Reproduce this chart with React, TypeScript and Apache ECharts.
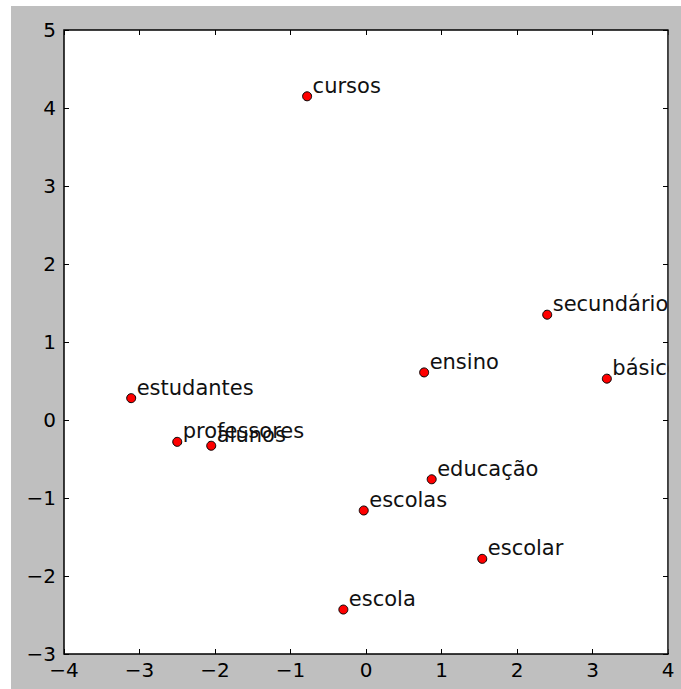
import React, { useEffect, useRef } from "react";
import * as echarts from "echarts";

const words = ["cursos", "secundário", "básico", "ensino", "estudantes", "professores", "alunos", "educação", "escolas", "escolar", "escola"];
const xValues = [-0.78, 2.4, 3.19, 0.77, -3.11, -2.5, -2.05, 0.87, -0.03, 1.54, -0.3];
const yValues = [4.15, 1.35, 0.53, 0.61, 0.28, -0.28, -0.33, -0.76, -1.16, -1.78, -2.43];

const FONT = "DejaVu Sans";
const fmt = (v: number) => String(v).replace("-", "\u2212");

export default function App() {
  const ref = useRef<HTMLDivElement>(null);
  useEffect(() => {
    if (!ref.current) return;
    const chart = echarts.init(ref.current, undefined, { renderer: "svg" });
    const data = words.map((w, i) => ({ name: w, value: [xValues[i], yValues[i]] }));
    const axisCommon = {
      type: "value" as const,
      min: -4,
      max: 4,
      interval: 1,
      splitLine: { show: false },
      axisLine: { show: false, onZero: false },
      axisTick: { show: true, inside: true, length: 5, lineStyle: { color: "#000", width: 1 } },
    };
    chart.setOption({
      animation: false,
      backgroundColor: "#bfbfbf",
      grid: { left: 53, top: 24, right: 13, bottom: 35, show: true, backgroundColor: "#ffffff", borderColor: "#000", borderWidth: 1.5 },
      graphic: [
        { type: "rect", right: 0, top: 0, z: 100, shape: { width: 12.2, height: 647 }, style: { fill: "#bfbfbf" } },
      ],
      xAxis: [
        { ...axisCommon, position: "bottom", axisLabel: { fontFamily: FONT, fontSize: 20, color: "#000", margin: 6, formatter: fmt } },
        { ...axisCommon, position: "top", axisLabel: { show: false } },
      ],
      yAxis: [
        { ...axisCommon, min: -3, max: 5, position: "left", axisLabel: { fontFamily: FONT, fontSize: 20, color: "#000", margin: 8, formatter: fmt } },
        { ...axisCommon, min: -3, max: 5, position: "right", axisLabel: { show: false } },
      ],
      series: [
        {
          type: "scatter",
          data,
          symbol: "circle",
          symbolSize: 9,
          itemStyle: { color: "#ff0000", borderColor: "#000", borderWidth: 1, opacity: 1 },
          label: {
            show: true,
            formatter: "{b}",
            position: [10.5, -5.5],
            align: "left",
            verticalAlign: "middle",
            fontFamily: FONT,
            fontSize: 21,
            color: "#111",
          },
          labelLayout: { hideOverlap: false },
        },
      ],
    });
    return () => chart.dispose();
  }, []);
  return (
    <div style={{ position: "fixed", left: 0, top: 0, width: 681, height: 689, background: "#fff" }}>
      <div ref={ref} style={{ position: "absolute", left: 11, top: 6, width: 670, height: 683 }} />
    </div>
  );
}
